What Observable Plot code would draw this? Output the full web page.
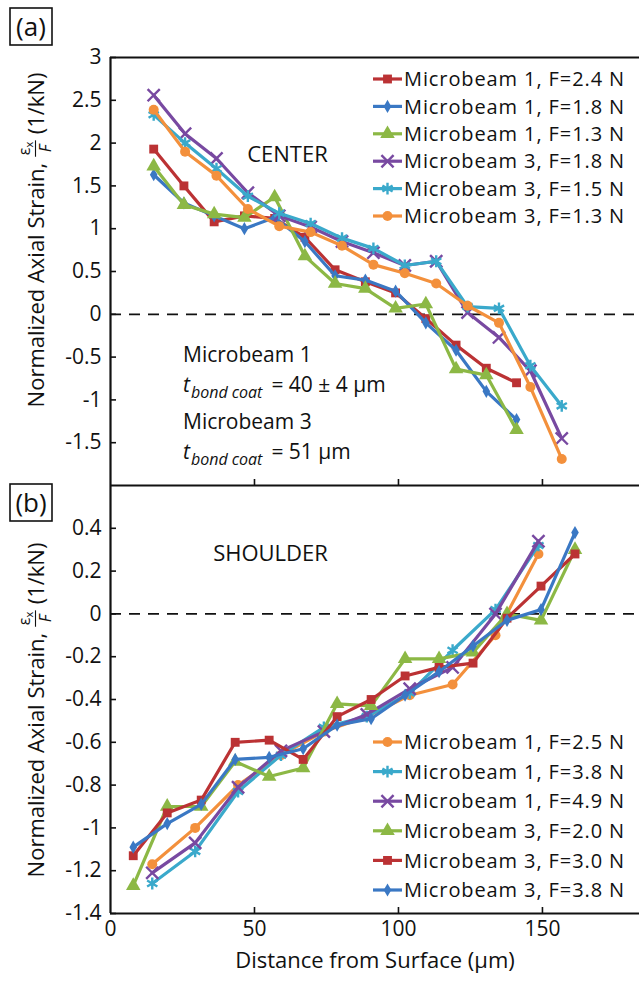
<!DOCTYPE html>
<html>
<head>
<meta charset="utf-8">
<script src="https://cdn.jsdelivr.net/npm/d3@7"></script>
<script src="https://cdn.jsdelivr.net/npm/@observablehq/plot@0.6"></script>
<style>
  html,body{margin:0;padding:0;background:#fff;}
  #root{position:relative;width:639px;height:984px;overflow:hidden;background:#fff;}
  #root > svg{position:absolute;left:0;overflow:visible;}
</style>
</head>
<body>
<div id="root"></div>
<script>
// ---------------- data ----------------
const xTicks = [0, 50, 100, 150];
const xInnerTicks = [50, 100, 150];
const yTicksA = [-1.5, -1, -0.5, 0, 0.5, 1, 1.5, 2, 2.5, 3];
const yTicksB = [-1.4, -1.2, -1, -0.8, -0.6, -0.4, -0.2, 0, 0.2, 0.4];

// (a) CENTER
const xA_mb1 = [15, 25.5, 36, 46.5, 57, 67.5, 78, 88.5, 99, 109.5, 120, 130.5, 141];
const xA_mb3 = [15, 25.9, 36.8, 47.7, 58.6, 69.5, 80.4, 91.3, 102.2, 113.1, 124, 134.9, 145.8, 156.7];
const a_mb1_F24 = [1.93, 1.50, 1.08, 1.15, 1.12, 0.90, 0.52, 0.38, 0.25, -0.05, -0.36, -0.63, -0.80];
const a_mb1_F18 = [1.63, 1.30, 1.15, 1.00, 1.13, 0.85, 0.45, 0.40, 0.27, -0.10, -0.42, -0.90, -1.23];
const a_mb1_F13 = [1.73, 1.28, 1.17, 1.13, 1.37, 0.68, 0.36, 0.30, 0.07, 0.12, -0.64, -0.71, -1.35];
const a_mb3_F18 = [2.56, 2.11, 1.82, 1.42, 1.15, 1.02, 0.85, 0.72, 0.57, 0.62, 0.02, -0.27, -0.66, -1.45];
const a_mb3_F15 = [2.33, 2.00, 1.70, 1.38, 1.18, 1.06, 0.89, 0.77, 0.57, 0.62, 0.09, 0.07, -0.60, -1.07];
const a_mb3_F13 = [2.39, 1.90, 1.62, 1.23, 1.03, 0.96, 0.80, 0.58, 0.48, 0.36, 0.10, -0.10, -0.85, -1.69];

// (b) SHOULDER
const xB_mb1 = [14.5, 29.4, 44.3, 59.2, 74.1, 89, 103.9, 118.8, 133.7, 148.6];
const xB_mb3 = [7.9, 19.7, 31.5, 43.3, 55.1, 66.9, 78.7, 90.5, 102.3, 114.1, 125.9, 137.7, 149.5, 161.3];
const b_mb1_F25 = [-1.17, -1.00, -0.80, -0.66, -0.55, -0.48, -0.38, -0.33, -0.10, 0.28];
const b_mb1_F38 = [-1.26, -1.11, -0.83, -0.66, -0.53, -0.48, -0.37, -0.17, 0.02, 0.32];
const b_mb1_F49 = [-1.21, -1.07, -0.81, -0.64, -0.55, -0.47, -0.35, -0.25, 0.00, 0.34];
const b_mb3_F20 = [-1.27, -0.90, -0.90, -0.69, -0.76, -0.72, -0.42, -0.43, -0.21, -0.21, -0.18, 0.00, -0.03, 0.30];
const b_mb3_F30 = [-1.13, -0.93, -0.87, -0.60, -0.59, -0.68, -0.48, -0.40, -0.29, -0.25, -0.23, -0.02, 0.13, 0.28];
const b_mb3_F38 = [-1.09, -0.98, -0.89, -0.68, -0.67, -0.63, -0.52, -0.49, -0.38, -0.27, -0.15, -0.03, 0.02, 0.38];

const namesA = ["Microbeam 1, F=2.4 N", "Microbeam 1, F=1.8 N", "Microbeam 1, F=1.3 N",
                "Microbeam 3, F=1.8 N", "Microbeam 3, F=1.5 N", "Microbeam 3, F=1.3 N"];
const namesB = ["Microbeam 1, F=2.5 N", "Microbeam 1, F=3.8 N", "Microbeam 1, F=4.9 N",
                "Microbeam 3, F=2.0 N", "Microbeam 3, F=3.0 N", "Microbeam 3, F=3.8 N"];

// ---------------- styles ----------------
const FONT = '"Open Sans", sans-serif';
const INK = "#111";
const C = {red:"#bb3234", blue:"#3a78c4", green:"#8cb845", purple:"#7849a1", cyan:"#3aa9cb", orange:"#f3903c"};
const SYM = {
  square:{sym:"square", r:5.0, filled:true},
  diamond:{sym:"diamond", r:4.0, filled:true},
  triangle:{sym:"triangle", r:5.4, filled:true},
  times:{sym:"times", r:5.6, filled:false},
  asterisk:{sym:"asterisk", r:5.6, filled:false},
  circle:{sym:"circle", r:5.0, filled:true}
};
const d3Sym = {square:d3.symbolSquare, diamond:d3.symbolDiamond, triangle:d3.symbolTriangle,
               times:d3.symbolTimes, asterisk:d3.symbolAsterisk, circle:d3.symbolCircle};

const seriesA = [
  {name:namesA[0], xs:xA_mb1, ys:a_mb1_F24, color:C.red,    m:SYM.square},
  {name:namesA[1], xs:xA_mb1, ys:a_mb1_F18, color:C.blue,   m:SYM.diamond},
  {name:namesA[2], xs:xA_mb1, ys:a_mb1_F13, color:C.green,  m:SYM.triangle},
  {name:namesA[3], xs:xA_mb3, ys:a_mb3_F18, color:C.purple, m:SYM.times},
  {name:namesA[4], xs:xA_mb3, ys:a_mb3_F15, color:C.cyan,   m:SYM.asterisk},
  {name:namesA[5], xs:xA_mb3, ys:a_mb3_F13, color:C.orange, m:SYM.circle}
];
const seriesB = [
  {name:namesB[0], xs:xB_mb1, ys:b_mb1_F25, color:C.orange, m:SYM.circle},
  {name:namesB[1], xs:xB_mb1, ys:b_mb1_F38, color:C.cyan,   m:SYM.asterisk},
  {name:namesB[2], xs:xB_mb1, ys:b_mb1_F49, color:C.purple, m:SYM.times},
  {name:namesB[3], xs:xB_mb3, ys:b_mb3_F20, color:C.green,  m:SYM.triangle},
  {name:namesB[4], xs:xB_mb3, ys:b_mb3_F30, color:C.red,    m:SYM.square},
  {name:namesB[5], xs:xB_mb3, ys:b_mb3_F38, color:C.blue,   m:SYM.diamond}
];

const LW = 3.2;
function seriesMarks(list) {
  const out = [];
  for (const s of list) {
    const data = s.xs.map((x, i) => ({x, y: s.ys[i]}));
    out.push(Plot.line(data, {x:"x", y:"y", stroke:s.color, strokeWidth:LW, strokeLinejoin:"round"}));
    out.push(Plot.dot(data, s.m.filled
      ? {x:"x", y:"y", symbol:s.m.sym, r:s.m.r, fill:s.color, stroke:"none"}
      : {x:"x", y:"y", symbol:s.m.sym, r:s.m.r, fill:"none", stroke:s.color, strokeWidth:2.4}));
  }
  return out;
}
const fmt = d => (d < 0 ? "-" + String(Math.abs(d)) : String(d));

const W = 639, ML = 110, FRAME_W = W - ML, FRAME_H = 428, TICK = 6;
const TF = 21; // tick font size

// ---------------- panel (a) ----------------
const plotA = Plot.plot({
  width:W, height:485, marginLeft:ML, marginRight:0, marginTop:57, marginBottom:0,
  style:{fontFamily:FONT, fontSize:TF + "px", color:INK, background:"none", overflow:"visible"},
  x:{domain:[0, 183.7], axis:null},
  y:{domain:[-2, 3]},
  marks:[
    Plot.ruleY([0], {stroke:INK, strokeWidth:1.7, strokeDasharray:"11,8"}),
    ...seriesMarks(seriesA),
    Plot.axisY({ticks:yTicksA, tickSize:0, tickPadding:9, tickFormat:fmt, fontSize:TF, label:null}),
    Plot.tickY(yTicksA, {y:d=>d, insetRight:FRAME_W - TICK, stroke:INK, strokeWidth:1.6}),
    Plot.tickX(xInnerTicks, {x:d=>d, insetTop:FRAME_H - TICK, stroke:INK, strokeWidth:1.6}),
    Plot.ruleX([0], {stroke:INK, strokeWidth:2.2}),
    Plot.ruleY([3], {stroke:INK, strokeWidth:2.2}),
    Plot.ruleY([-2], {stroke:INK, strokeWidth:2.2}),
    Plot.text(["CENTER"], {frameAnchor:"top-left", dx:177, dy:89, fontSize:22, textAnchor:"middle", fill:INK})
  ]
});

// ---------------- panel (b) ----------------
const plotB = Plot.plot({
  width:W, height:499, marginLeft:ML, marginRight:0, marginTop:0, marginBottom:71,
  style:{fontFamily:FONT, fontSize:TF + "px", color:INK, background:"none", overflow:"visible"},
  x:{domain:[0, 183.7]},
  y:{domain:[-1.4, 0.6]},
  marks:[
    Plot.ruleY([0], {stroke:INK, strokeWidth:1.7, strokeDasharray:"11,8"}),
    ...seriesMarks(seriesB),
    Plot.axisY({ticks:yTicksB, tickSize:0, tickPadding:9, tickFormat:fmt, fontSize:TF, label:null}),
    Plot.axisX({ticks:xTicks, tickSize:0, tickPadding:8, tickFormat:fmt, fontSize:TF, label:null}),
    Plot.tickY(yTicksB, {y:d=>d, insetRight:FRAME_W - TICK, stroke:INK, strokeWidth:1.6}),
    Plot.tickX(xInnerTicks, {x:d=>d, insetTop:FRAME_H - TICK, stroke:INK, strokeWidth:1.6}),
    Plot.ruleX([0], {stroke:INK, strokeWidth:2.2}),
    Plot.ruleY([-1.4], {stroke:INK, strokeWidth:2.2}),
    Plot.text(["SHOULDER"], {frameAnchor:"top-left", dx:160, dy:60, fontSize:22, textAnchor:"middle", fill:INK}),
    Plot.text(["Distance from Surface (μm)"], {frameAnchor:"bottom", dy:54, fontSize:22, fill:INK})
  ]
});

const root = document.getElementById("root");
plotB.style.top = "485px";
plotA.style.top = "0px";
root.appendChild(plotB);
root.appendChild(plotA);

// ---------------- overlay: legends, labels, annotations ----------------
const overlay = d3.select(root).append("svg")
  .attr("width", W).attr("height", 984)
  .style("top", "0px")
  .attr("font-family", FONT).attr("fill", INK);

function drawLegend(list, x0, y0, dy) {
  const g = overlay.append("g");
  list.forEach((s, i) => {
    const y = y0 + i * dy;
    g.append("line").attr("x1", x0).attr("x2", x0 + 29).attr("y1", y).attr("y2", y)
      .attr("stroke", s.color).attr("stroke-width", LW);
    g.append("path").attr("transform", `translate(${x0 + 14.5},${y})`)
      .attr("d", d3.symbol(d3Sym[s.m.sym], Math.PI * s.m.r * s.m.r)())
      .attr("fill", s.m.filled ? s.color : "none")
      .attr("stroke", s.m.filled ? "none" : s.color).attr("stroke-width", 2.4);
    g.append("text").attr("x", x0 + 31).attr("y", y).attr("dy", "0.36em")
      .attr("font-size", 20).attr("letter-spacing", "0.9px").text(s.name);
  });
}
drawLegend(seriesA, 373, 79, 27.4);
drawLegend(seriesB, 373, 742, 29.6);

function panelTag(label, x, y) {
  overlay.append("rect").attr("x", x).attr("y", y).attr("width", 42).attr("height", 37)
    .attr("fill", "#fff").attr("stroke", INK).attr("stroke-width", 1.6);
  overlay.append("text").attr("x", x + 21).attr("y", y + 18.5).attr("dy", "0.36em")
    .attr("text-anchor", "middle").attr("font-size", 26).text(label);
}
panelTag("(a)", 10, 8);
panelTag("(b)", 10, 484);

function yTitle(cx, cy) {
  const g = overlay.append("g").attr("transform", `translate(${cx},${cy}) rotate(-90)`);
  const inner = g.append("g");
  const t1 = inner.append("text").attr("font-size", 22).text("Normalized Axial Strain,");
  const w1 = t1.node().getComputedTextLength();
  let x = w1 + 6;
  const num = inner.append("text").attr("y", -14).attr("font-size", 16);
  num.append("tspan").text("ε");
  num.append("tspan").attr("font-size", 11).attr("dy", 3).text("x");
  const den = inner.append("text").attr("y", 7).attr("font-size", 16).attr("font-style", "italic").text("F");
  const wn = num.node().getComputedTextLength(), wd = den.node().getComputedTextLength();
  const wf = Math.max(wn, wd) + 3;
  num.attr("x", x + (wf - wn) / 2);
  den.attr("x", x + (wf - wd) / 2);
  inner.append("line").attr("x1", x).attr("x2", x + wf).attr("y1", -8.5).attr("y2", -8.5)
    .attr("stroke", INK).attr("stroke-width", 1.1);
  x += wf + 6;
  const t2 = inner.append("text").attr("x", x).attr("font-size", 22).text("(1/kN)");
  const total = x + t2.node().getComputedTextLength();
  inner.attr("transform", `translate(${-total / 2},0)`);
}
yTitle(44, 240);
yTitle(44, 710);

function bondLine(x, y, value) {
  const t = overlay.append("text").attr("x", x).attr("y", y).attr("font-size", 21);
  t.append("tspan").attr("font-style", "italic").text("t");
  t.append("tspan").attr("font-style", "italic").attr("font-size", 16).attr("dy", 6).attr("dx", 1).text("bond coat");
  t.append("tspan").attr("dy", -6).attr("dx", 9).text("= " + value);
}
overlay.append("text").attr("x", 183).attr("y", 362).attr("font-size", 21).text("Microbeam 1");
bondLine(183, 392, "40 ± 4 μm");
overlay.append("text").attr("x", 183).attr("y", 429).attr("font-size", 21).text("Microbeam 3");
bondLine(183, 459, "51 μm");
</script>
</body>
</html>
